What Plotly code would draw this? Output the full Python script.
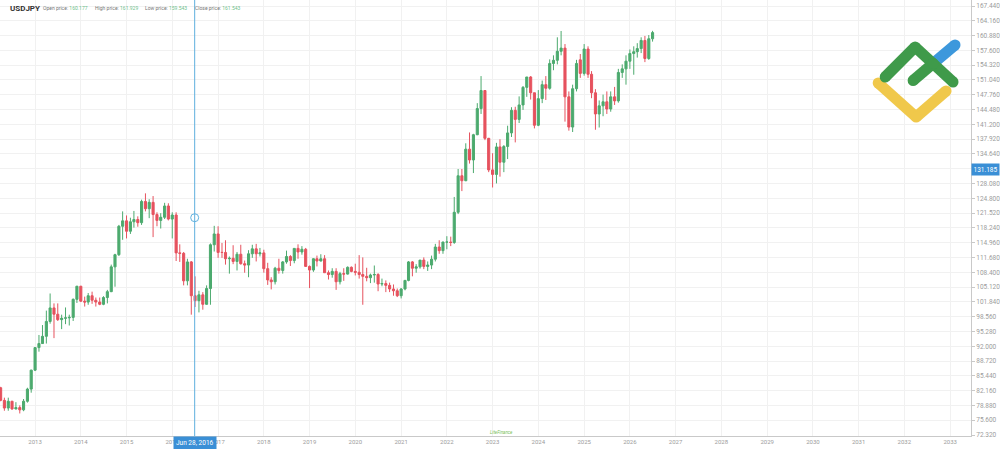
import plotly.graph_objects as go
import pandas as pd

# ---------------- data (monthly USDJPY, Apr 2012 .. Jul 2026) ----------------
opens = [
    # 2012 Apr-Dec
    82.8, 80.0, 78.3, 79.8, 78.1, 78.4, 77.9, 79.8, 82.5,
    # 2013
    86.7, 91.7, 92.6, 94.2, 97.5, 100.5, 99.1, 97.9, 98.2, 98.3, 98.4, 102.4,
    # 2014
    105.3, 102.0, 101.8, 103.2, 102.2, 101.8, 101.3, 102.8, 104.1, 109.6, 112.3, 118.6,
    # 2015
    119.8, 117.5, 119.6, 120.1, 119.4, 124.1, 122.5, 123.9, 121.2, 119.9, 120.6, 123.1,
    # 2016
    120.2, 121.1, 112.7, 112.6, 106.5, 110.7, 103.2, 102.1, 103.4, 101.3, 104.8, 114.5,
    # 2017
    116.9, 112.8, 112.8, 111.4, 111.5, 110.8, 112.4, 110.3, 110.0, 112.5, 113.6, 112.5,
    # 2018
    112.7, 109.2, 106.7, 106.3, 109.3, 108.8, 110.7, 111.9, 111.0, 113.7, 112.9, 113.5,
    # 2019
    109.7, 108.9, 111.4, 110.9, 111.4, 108.3, 107.9, 108.6, 106.3, 108.1, 108.0, 109.5,
    # 2020
    108.6, 108.4, 107.9, 107.5, 107.2, 107.8, 107.9, 105.8, 105.9, 105.5, 104.7, 104.3,
    # 2021
    103.2, 104.7, 106.6, 110.7, 109.3, 109.6, 111.1, 109.7, 110.0, 111.3, 114.0, 113.2,
    # 2022
    115.1, 115.1, 115.0, 121.7, 129.8, 128.7, 135.7, 133.3, 138.9, 144.7, 148.7, 138.1,
    # 2023
    131.1, 130.1, 136.2, 132.8, 136.3, 139.3, 144.3, 142.3, 145.5, 149.4, 151.7, 148.2,
    # 2024
    141.0, 146.9, 150.0, 149.2, 154.7, 155.4, 157.4, 158.1, 147.3, 140.6, 149.1, 155.5,
    # 2025
    152.5, 157.9, 152.3, 148.2, 143.5, 145.3, 146.2, 144.6, 147.3, 146.4, 152.7, 153.5,
    # 2026 Jan-Jul
    155.2, 156.9, 157.3, 158.0, 159.8, 155.8, 160.177,
]
highs = [
    83.0, 80.6, 80.6, 79.9, 79.6, 78.9, 80.3, 82.8, 86.8,
    91.8, 94.5, 96.7, 99.9, 103.7, 101.5, 101.5, 99.0, 100.6, 99.0, 102.6, 105.4,
    105.4, 103.0, 103.8, 104.1, 102.8, 102.8, 103.1, 104.5, 110.1, 112.5, 118.9, 121.9,
    121.0, 120.5, 122.0, 120.8, 124.5, 125.9, 124.6, 125.3, 121.7, 121.5, 123.8, 123.7,
    121.7, 121.7, 114.6, 112.9, 111.4, 110.9, 107.5, 104.3, 104.0, 105.5, 114.8, 118.7,
    118.6, 114.9, 115.5, 111.9, 114.4, 112.9, 114.5, 111.0, 113.3, 114.5, 114.7, 113.8,
    113.4, 110.5, 107.3, 109.6, 111.4, 110.9, 113.2, 112.2, 113.7, 114.6, 114.2, 113.8,
    109.9, 111.5, 112.1, 112.4, 112.2, 108.8, 109.3, 109.3, 108.5, 109.3, 109.7, 109.7,
    110.3, 112.2, 111.7, 109.4, 108.1, 109.9, 108.2, 107.0, 106.6, 106.1, 105.7, 104.8,
    104.9, 106.7, 110.9, 110.9, 110.2, 111.1, 111.7, 110.8, 112.1, 114.7, 115.5, 115.2,
    116.4, 116.3, 125.1, 131.3, 131.3, 137.0, 139.4, 139.1, 145.9, 151.9, 148.8, 138.2,
    134.8, 137.1, 137.9, 136.6, 140.9, 145.0, 145.1, 147.4, 149.7, 151.7, 151.9, 148.2,
    148.8, 150.9, 151.9, 155.6, 156.5, 160.5, 161.9, 159.0, 148.5, 150.0, 155.5, 156.8,
    159.0, 158.5, 153.0, 149.0, 146.5, 147.8, 148.5, 148.5, 149.5, 153.5, 154.5, 156.5,
    157.8, 158.5, 159.2, 160.5, 160.8, 161.0, 161.929,
]
lows = [
    79.8, 77.7, 77.7, 77.9, 78.0, 77.1, 77.6, 79.5, 81.7,
    86.5, 90.8, 92.5, 92.6, 97.0, 93.8, 97.6, 95.8, 96.9, 96.6, 97.6, 101.6,
    101.8, 100.8, 101.2, 101.4, 100.8, 101.1, 101.1, 101.5, 104.0, 105.2, 112.0, 115.6,
    115.9, 116.9, 118.3, 118.5, 118.9, 121.9, 120.4, 116.2, 118.6, 118.1, 120.2, 119.9,
    115.9, 110.9, 110.7, 105.5, 105.5, 99.0, 100.7, 99.5, 100.1, 101.2, 101.2, 113.0,
    111.6, 111.6, 110.1, 108.1, 110.2, 108.8, 110.1, 108.3, 107.3, 111.6, 110.8, 111.9,
    108.3, 105.6, 104.6, 105.7, 108.1, 108.1, 110.3, 109.8, 110.4, 111.4, 112.3, 109.6,
    104.9, 108.5, 109.7, 110.8, 108.3, 106.8, 107.2, 104.5, 105.7, 106.5, 107.9, 108.4,
    107.7, 107.0, 101.2, 106.4, 106.0, 106.1, 104.2, 105.3, 104.0, 104.0, 103.2, 102.9,
    102.6, 104.4, 106.4, 107.5, 108.3, 109.2, 109.1, 108.7, 109.1, 110.8, 112.5, 112.5,
    113.5, 114.2, 114.7, 121.3, 126.4, 128.6, 132.5, 130.4, 138.8, 143.5, 137.7, 130.6,
    127.2, 128.1, 129.6, 130.6, 133.5, 138.4, 137.2, 141.5, 144.4, 147.3, 146.7, 140.3,
    140.8, 145.9, 146.6, 148.9, 153.2, 154.5, 156.5, 141.8, 139.8, 139.5, 148.5, 151.5,
    152.0, 151.5, 147.0, 140.0, 140.5, 143.0, 143.5, 144.0, 145.5, 146.0, 151.5, 150.0,
    153.5, 152.2, 156.0, 157.0, 155.0, 155.5, 159.543,
]
closes = [
    80.0, 78.3, 79.8, 78.1, 78.4, 77.9, 79.8, 82.5, 86.7,
    91.7, 92.6, 94.2, 97.5, 100.5, 99.1, 97.9, 98.2, 98.3, 98.4, 102.4, 105.3,
    102.0, 101.8, 103.2, 102.2, 101.8, 101.3, 102.8, 104.1, 109.6, 112.3, 118.6, 119.8,
    117.5, 119.6, 120.1, 119.4, 124.1, 122.5, 123.9, 121.2, 119.9, 120.6, 123.1, 120.2,
    121.1, 112.7, 112.6, 106.5, 110.7, 103.2, 102.1, 103.4, 101.3, 104.8, 114.5, 116.9,
    112.8, 112.8, 111.4, 111.5, 110.8, 112.4, 110.3, 110.0, 112.5, 113.6, 112.5, 112.7,
    109.2, 106.7, 106.3, 109.3, 108.8, 110.7, 111.9, 111.0, 113.7, 112.9, 113.5, 109.7,
    108.9, 111.4, 110.9, 111.4, 108.3, 107.9, 108.6, 106.3, 108.1, 108.0, 109.5, 108.6,
    108.4, 107.9, 107.5, 107.2, 107.8, 107.9, 105.8, 105.9, 105.5, 104.7, 104.3, 103.2,
    104.7, 106.6, 110.7, 109.3, 109.6, 111.1, 109.7, 110.0, 111.3, 114.0, 113.2, 115.1,
    115.1, 115.0, 121.7, 129.8, 128.7, 135.7, 133.3, 138.9, 144.7, 148.7, 138.1, 131.1,
    130.1, 136.2, 132.8, 136.3, 139.3, 144.3, 142.3, 145.5, 149.4, 151.7, 148.2, 141.0,
    146.9, 150.0, 149.2, 154.7, 155.4, 157.4, 158.1, 147.3, 140.6, 149.1, 154.7, 152.5,
    157.9, 152.3, 148.2, 143.5, 145.3, 146.2, 144.6, 147.3, 146.4, 152.7, 153.5, 155.2,
    156.9, 157.3, 158.0, 159.8, 155.8, 160.177, 161.543,
]
months = pd.date_range("2012-04-01", periods=len(closes), freq="MS")

price_ticks = [72.32, 75.60, 78.88, 82.16, 85.44, 88.72, 92.00, 95.28, 98.56, 101.84,
               105.12, 108.40, 111.68, 114.96, 118.24, 121.52, 124.80, 128.08, 131.36,
               134.64, 137.92, 141.20, 144.48, 147.76, 151.04, 154.32, 157.60, 160.88,
               164.16, 167.44]
# the 131.360 label sits under the current-price marker, so it is not shown
price_tick_text = ["" if abs(v - 131.36) < 1e-6 else "%.3f" % v for v in price_ticks]

header_labels = ["Open price:", "High price:", "Low price:", "Close price:"]
header_values = ["160.177", "161.929", "159.543", "161.543"]

cross_date = "2016-06-28"
cross_price = 120.5
cross_label = "Jun 28, 2016"
price_marker = "131.185"

# ---------------- style ----------------
W, H = 1000, 449
ML, MR, MT, MB = 0, 27, 0, 13
PW, PH = W - ML - MR, H - MT - MB
GREEN = "#4caa6e"
RED = "#e6525e"
GRID = "#f1f1f1"
AXIS = "#c9c9c9"
TXT = "#9c9c9c"
BLUE = "#3a8fd6"
CROSS = "#5fb0de"
FONT = "Roboto"


def px(x, y):
    return x / PW, 1 - y / PH


fig = go.Figure()
fig.add_trace(go.Candlestick(
    x=months, open=opens, high=highs, low=lows, close=closes,
    increasing=dict(line=dict(color=GREEN, width=1), fillcolor=GREEN),
    decreasing=dict(line=dict(color=RED, width=1), fillcolor=RED),
    whiskerwidth=0, hoverinfo="skip", showlegend=False,
))

shapes = [dict(type="line", xref="x", yref="paper", x0=cross_date, x1=cross_date,
               y0=0, y1=1, line=dict(color=CROSS, width=1, dash="solid"), layer="above")]


def stroke(pts, color, w=11):
    out = []
    for (xa, ya), (xb, yb) in zip(pts[:-1], pts[1:]):
        a, b = px(xa, ya), px(xb, yb)
        out.append(dict(type="line", xref="paper", yref="paper", x0=a[0], y0=a[1],
                        x1=b[0], y1=b[1], line=dict(color=color, width=w), layer="above"))
    r = w / 2.0
    for (xc, yc) in pts:
        a, b = px(xc - r, yc + r), px(xc + r, yc - r)
        out.append(dict(type="circle", xref="paper", yref="paper", x0=a[0], y0=a[1],
                        x1=b[0], y1=b[1], fillcolor=color, line=dict(width=0), layer="above"))
    return out


LOGO_G = "#3f9a4a"
LOGO_B = "#3d98dc"
LOGO_Y = "#f0c84b"
shapes += stroke([(880, 83), (918, 117), (948, 91)], LOGO_Y)
shapes += stroke([(935, 63.5), (957, 45)], LOGO_B)
shapes += stroke([(887, 77), (917, 47), (955, 82)], LOGO_G)
shapes += stroke([(915, 80.5), (935, 63.5)], LOGO_G)

fig.add_trace(go.Scatter(
    x=[cross_date], y=[cross_price], mode="markers",
    marker=dict(size=8, color="white", line=dict(color=CROSS, width=1)),
    hoverinfo="skip", showlegend=False,
))

ann = []
x0, y0 = px(8, 8)
ann.append(dict(x=x0, y=y0, xref="paper", yref="paper", xanchor="left", yanchor="middle",
                text="<b>USDJPY</b>", showarrow=False, font=dict(family=FONT, size=8, color="#333333")))
lab_x = [41, 93, 143, 193]
for lx, lt, lv in zip(lab_x, header_labels, header_values):
    a = px(lx, 8)
    ann.append(dict(x=a[0], y=a[1], xref="paper", yref="paper", xanchor="left", yanchor="middle",
                    text=lt + " <span style='color:#6fbf8c'>" + lv + "</span>",
                    showarrow=False, font=dict(family=FONT, size=5, color="#777777")))
a = px(193, 442.5)
ann.append(dict(x=cross_date, y=a[1], xref="x", yref="paper", xanchor="center", yanchor="middle",
                text=cross_label, showarrow=False, bgcolor=BLUE, borderpad=2,
                font=dict(family=FONT, size=6.5, color="white")))
a = px(987.5, 169.5)
ann.append(dict(x=a[0], y=a[1], xref="paper", yref="paper", xanchor="center", yanchor="middle",
                text=price_marker, showarrow=False, bgcolor=BLUE, borderpad=1.5,
                font=dict(family=FONT, size=6.5, color="white")))
a = px(503, 432)
ann.append(dict(x=a[0], y=a[1], xref="paper", yref="paper", xanchor="center", yanchor="middle",
                text="<i>LiteFinance</i>", showarrow=False,
                font=dict(family=FONT, size=4.5, color="#7bbf5a")))

fig.update_layout(
    width=W, height=H, margin=dict(l=ML, r=MR, t=MT, b=MB),
    paper_bgcolor="white", plot_bgcolor="white",
    showlegend=False, shapes=shapes, annotations=ann,
    boxgap=0.4, boxgroupgap=0.0,
    font=dict(family=FONT),
    xaxis=dict(type="date", range=["2012-03-27", "2033-06-16"],
               tick0="2013-01-01", dtick="M12", tickformat="%Y",
               showgrid=True, gridcolor=GRID, gridwidth=1,
               showline=True, linecolor=AXIS, linewidth=1,
               ticks="", tickfont=dict(family=FONT, size=6, color=TXT),
               rangeslider=dict(visible=False), zeroline=False, fixedrange=True),
    yaxis=dict(side="right", range=[72.1, 168.77],
               tickmode="array", tickvals=price_ticks, ticktext=price_tick_text,
               showgrid=True, gridcolor=GRID, gridwidth=1,
               showline=True, linecolor=AXIS, linewidth=1,
               ticks="outside", ticklen=3, tickcolor=AXIS,
               tickfont=dict(family=FONT, size=6.5, color=TXT), zeroline=False, fixedrange=True),
)

fig.write_html("out.html")
